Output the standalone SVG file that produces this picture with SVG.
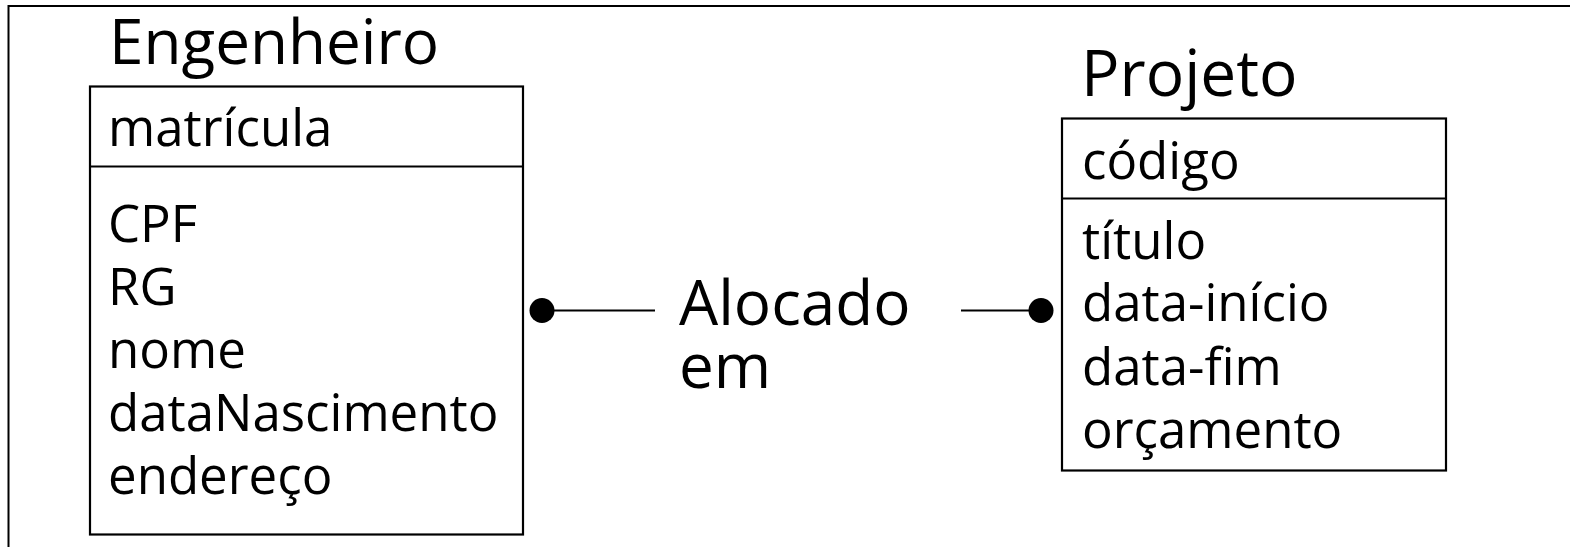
<svg xmlns="http://www.w3.org/2000/svg" width="1570" height="547" viewBox="0 0 1570 547">
<style>
.frame{fill:none;stroke:#000;stroke-width:2}
.box{fill:#fff;stroke:#000;stroke-width:2.2}
.title{font-family:"Open Sans","Liberation Sans",sans-serif;font-size:62px;fill:#000}
.attr{font-family:"Open Sans","Liberation Sans",sans-serif;font-size:51px;fill:#000}
.conn{stroke:#000;stroke-width:2.2;fill:none}
.dot{fill:#000}
</style>
<rect width="1570" height="547" fill="#fff"/>
<path class="frame" d="M8.5,560 V6 H1580"/>
<g id="engenheiro">
<text class="title" x="109" y="64">Engenheiro</text>
<rect class="box" x="90" y="86.5" width="433" height="448"/>
<line class="box" x1="90" y1="166.5" x2="523" y2="166.5"/>
<text class="attr" x="108" y="146">matrícula</text>
<text class="attr" x="108" y="242">CPF</text>
<text class="attr" x="108" y="305">RG</text>
<text class="attr" x="108" y="368">nome</text>
<text class="attr" x="108" y="431">dataNascimento</text>
<text class="attr" x="108" y="494">endereço</text>
</g>
<g id="projeto">
<text class="title" x="1081" y="96" style="font-size:64px">Projeto</text>
<rect class="box" x="1062" y="118.5" width="384" height="352"/>
<line class="box" x1="1062" y1="198.5" x2="1446" y2="198.5"/>
<text class="attr" x="1082" y="179">código</text>
<text class="attr" x="1082" y="259">título</text>
<text class="attr" x="1082" y="321">data-início</text>
<text class="attr" x="1082" y="385">data-fim</text>
<text class="attr" x="1082" y="448">orçamento</text>
</g>
<g id="alocado-em">
<text class="title" x="679" y="325">Alocado</text>
<text class="title" x="679" y="388">em</text>
</g>
<g id="connectors">
<line class="conn" x1="542" y1="310.5" x2="655" y2="310.5"/>
<circle class="dot" cx="542" cy="310.5" r="12.5"/>
<line class="conn" x1="961" y1="310.5" x2="1041" y2="310.5"/>
<circle class="dot" cx="1041" cy="310.5" r="12.5"/>
</g>
</svg>
